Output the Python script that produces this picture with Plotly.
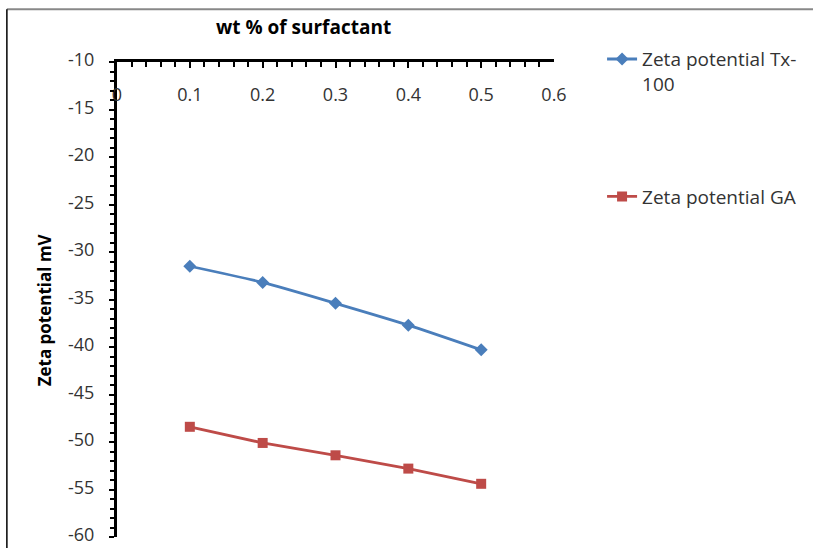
import plotly.graph_objects as go

wt_percent = [0.1, 0.2, 0.3, 0.4, 0.5]
zeta_tx100 = [-31.5, -33.2, -35.4, -37.7, -40.3]
zeta_ga = [-48.4, -50.1, -51.4, -52.8, -54.4]

x_tickvals = [0, 0.1, 0.2, 0.3, 0.4, 0.5, 0.6]
x_ticktext = ["0", "0.1", "0.2", "0.3", "0.4", "0.5", "0.6"]
y_tickvals = [-10, -15, -20, -25, -30, -35, -40, -45, -50, -55, -60]
y_ticktext = ["-10", "-15", "-20", "-25", "-30", "-35", "-40", "-45", "-50", "-55", "-60"]

name_tx = "Zeta potential Tx-<br>100"
name_ga = "Zeta potential GA"
x_title = "wt % of surfactant"
y_title = "Zeta potential mV"

FONT = "'Open Sans', sans-serif"
TXT = "#333333"

fig = go.Figure()
fig.add_trace(go.Scatter(
    x=wt_percent, y=zeta_tx100, name=name_tx, mode="lines+markers",
    line=dict(color="#4A7EBB", width=2.8, shape="spline", smoothing=0.6),
    marker=dict(symbol="diamond", size=10, color="#4A7EBB"),
    legendgroup="tx",
))
fig.add_trace(go.Scatter(
    x=wt_percent, y=zeta_ga, name=name_ga, mode="lines+markers",
    line=dict(color="#BE4B48", width=2.8),
    marker=dict(symbol="square", size=10, color="#BE4B48"),
    legendgroup="ga",
))

fig.update_layout(
    width=813, height=548,
    margin=dict(l=117, r=259, t=62, b=11, autoexpand=False),
    paper_bgcolor="white", plot_bgcolor="white",
    font=dict(family=FONT, size=18, color=TXT),
    xaxis=dict(
        range=[0, 0.6], tickvals=x_tickvals, ticktext=x_ticktext, side="top",
        showgrid=False, zeroline=False, automargin=False,
        showline=True, linecolor="black", linewidth=3,
        ticks="inside", ticklen=6, tickwidth=2, tickcolor="black",
        minor=dict(dtick=0.02, ticks="inside", ticklen=5, tickwidth=2, tickcolor="black"),
        ticklabelstandoff=-49, ticklabeloverflow="allow",
        tickfont=dict(size=18, color=TXT),
    ),
    yaxis=dict(
        range=[-60, -10], tickvals=y_tickvals, ticktext=y_ticktext,
        showgrid=False, zeroline=False, automargin=False,
        showline=True, linecolor="black", linewidth=3,
        ticks="outside", ticklen=5, tickwidth=2, tickcolor="black",
        minor=dict(dtick=1, ticks="outside", ticklen=4, tickwidth=2, tickcolor="black"),
        ticklabelstandoff=11, ticklabelshift=-2, ticklabeloverflow="allow",
        tickfont=dict(size=18, color=TXT),
    ),
    annotations=[
        dict(text="<b>" + x_title + "</b>", xref="paper", yref="paper", x=0.426, y=1.073,
             showarrow=False, xanchor="center", yanchor="middle",
             font=dict(size=19, color="black")),
        dict(text="<b>" + y_title + "</b>", xref="paper", yref="paper", x=-0.165, y=0.479,
             showarrow=False, xanchor="center", yanchor="middle", textangle=-90,
             font=dict(size=17, color="black")),
    ],
    legend=dict(x=1.110, y=1.046, xanchor="left", yanchor="top", valign="top",
                tracegroupgap=85,
                font=dict(size=19, color=TXT), bgcolor="rgba(0,0,0,0)"),
    shapes=[
        dict(type="line", xref="paper", yref="paper", x0=-0.252, x1=1.6, y0=1.111, y1=1.111,
             line=dict(color="#888888", width=2)),
        dict(type="line", xref="paper", yref="paper", x0=-0.252, x1=-0.252, y0=1.111, y1=-0.1,
             line=dict(color="black", width=1.5)),
    ],
)

fig.write_html("out.html", config={"displayModeBar": False},
               post_script="document.body.style.margin='0';")
